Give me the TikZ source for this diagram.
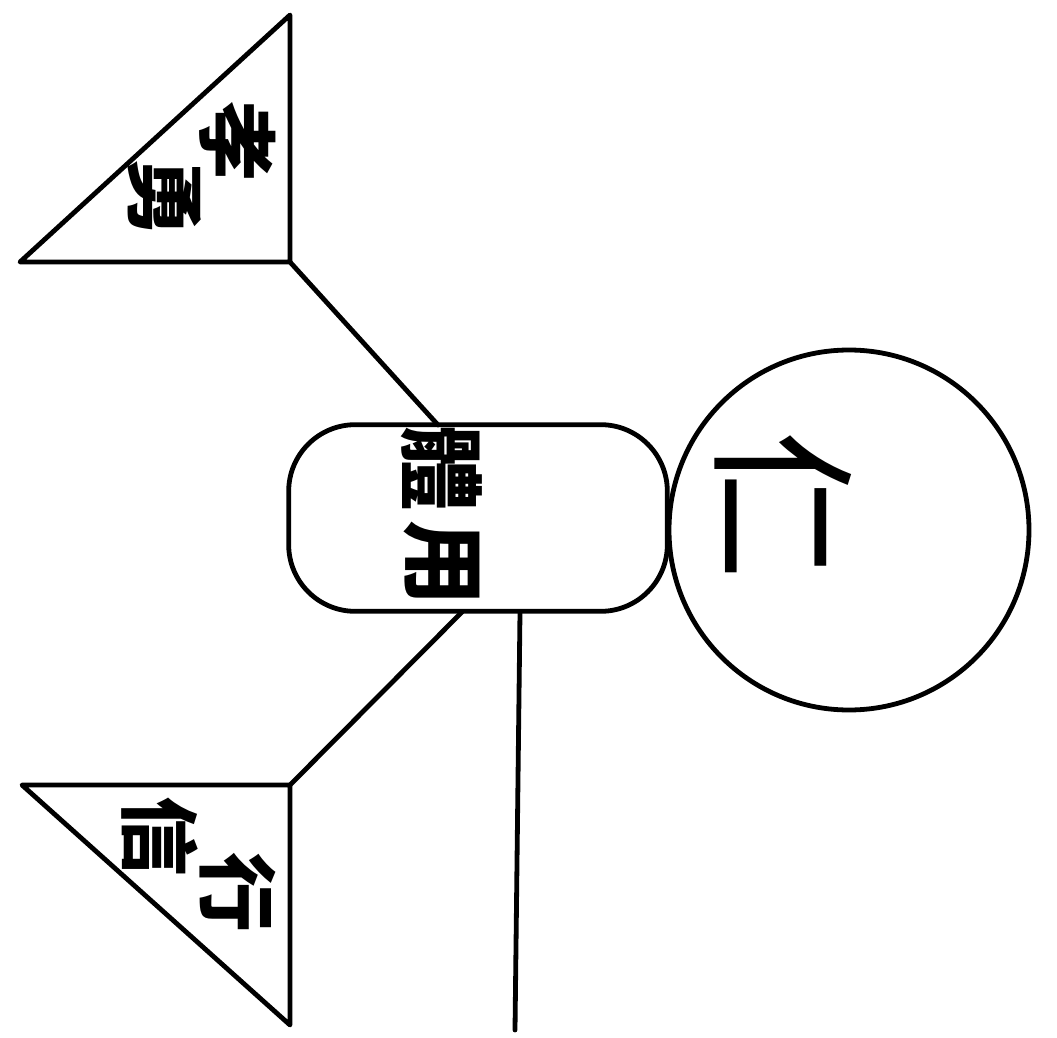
\documentclass[tikz,border=0pt]{standalone}
\usepackage{fontspec}
\newfontfamily\cjk{Noto Sans CJK TC}
\begin{document}
\begin{tikzpicture}[x=0.75pt,y=-0.75pt,
  ln/.style={line width=3.6pt,line cap=round,line join=round},
  rch/.style={font=\cjk\bfseries\fontsize{60}{60}\selectfont,rotate=-90,inner sep=0pt},
  boxch/.style={font=\cjk\bfseries\fontsize{64}{64}\selectfont,rotate=-90,inner sep=0pt},
  bigch/.style={font=\cjk\fontsize{112}{112}\selectfont,rotate=-90,inner sep=0pt}]
\useasboundingbox (0,0) rectangle (1057,1038);
% circle (head)
\node[ln,draw,circle,minimum size=270pt,inner sep=0pt] (head) at (849,530) {};
\node[bigch] (ren) at (783,505) {仁};
% body box
\node[ln,draw,rounded corners=50pt,minimum width=284pt,minimum height=140pt,inner sep=0pt] (body) at (478,518) {};
\node[boxch] (b1) at (442,468) {體};
\node[boxch] (b2) at (442,563) {用};
% top triangle
\coordinate (ta) at (290,15);
\coordinate (tb) at (290,262);
\coordinate (tc) at (20,262);
\draw[ln] (ta) -- (tb) -- (tc) -- cycle;
\node[rch] (t1) at (238,142) {孝};
\node[rch] (t2) at (165,198) {勇};
% bottom triangle
\coordinate (ua) at (290,785);
\coordinate (ub) at (290,1025);
\coordinate (uc) at (22,785);
\draw[ln] (ua) -- (ub) -- (uc) -- cycle;
\node[rch] (u1) at (160,836) {信};
\node[rch] (u2) at (238,892) {行};
% connectors
\coordinate (bodyTL) at (438,425);
\coordinate (bodyBL) at (462,612);
\coordinate (bodyB) at (520,612);
\coordinate (tail) at (515,1030);
\draw[ln] (tb) -- (bodyTL);
\draw[ln] (ua) -- (bodyBL);
\draw[ln] (bodyB) -- (tail);
\end{tikzpicture}
\end{document}
